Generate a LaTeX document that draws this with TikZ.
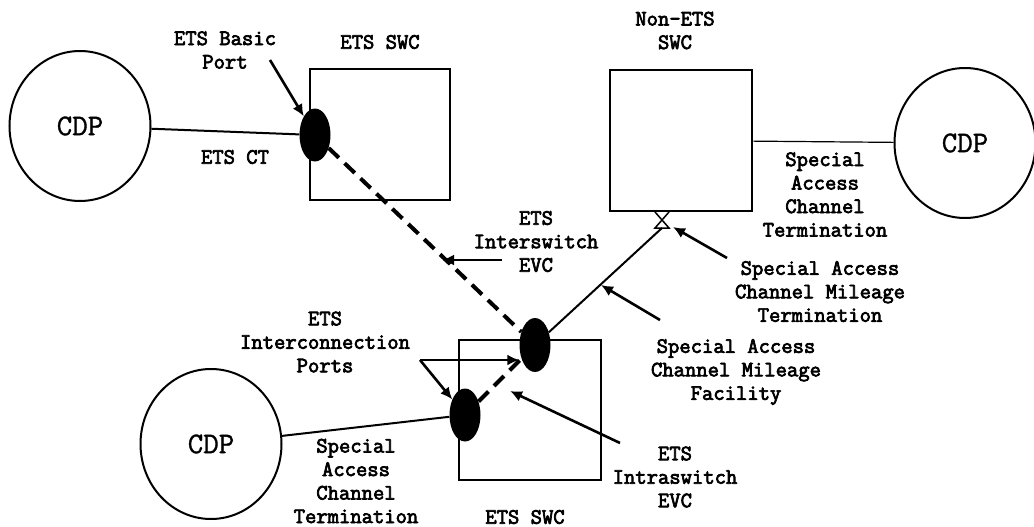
\documentclass[tikz,border=0pt]{standalone}
\usepackage{fontspec}
\newfontfamily\cour{Latin Modern Mono}[FakeBold=3.2]
\newfontfamily\courreg{Latin Modern Mono}[FakeBold=1.2]
\usetikzlibrary{shapes.geometric,arrows.meta}
\begin{document}
\begin{tikzpicture}[x=1pt,y=-1pt,
  lbl/.style={font=\fontsize{22}{23.5}\selectfont\cour, align=center, inner sep=0pt},
  cdp/.style={ellipse, draw, line width=2pt, minimum width=141pt, minimum height=150pt, inner sep=0pt, font=\fontsize{30}{32}\selectfont\courreg},
  swc/.style={rectangle, draw, line width=2.5pt, inner sep=0pt},
  port/.style={ellipse, fill=black, minimum width=31pt, minimum height=53pt, inner sep=0pt},
  arr/.style={line width=2.6pt, -{Latex[length=12pt,width=11pt]}},
  link/.style={line width=2pt},
  dsh/.style={line width=4pt, dash pattern=on 14pt off 8pt}]
\useasboundingbox (0,0) rectangle (1034,527);

% CDPs
\node[cdp] (cdpL) at (80,126) {CDP};
\node[cdp] (cdpR) at (965,143) {CDP};
\node[cdp] (cdpLL) at (211,444) {CDP};

% switching centres
\node[swc, minimum width=140pt, minimum height=131pt] (swcT) at (380,134.5) {};
\node[swc, minimum width=142pt, minimum height=141pt] (nonets) at (681,140.5) {};
\node[swc, minimum width=142pt, minimum height=140pt] (swcB) at (530,410) {};

% ports
\node[port] (bp) at (315,135) {};
\node[port, minimum height=54pt] (pU) at (535,345) {};
\node[port] (pL) at (465,415) {};

% hourglass (mileage termination)
\draw[line width=1.5pt] (655,212) -- (669,228) -- (655,228) -- (669,212);
\coordinate (hg) at (662,228);

% links
\draw[link] (cdpL) -- (bp);
\draw[line width=1.2pt] (nonets) -- (cdpR);
\draw[link] (cdpLL) -- (pL);
\draw[dsh] (bp) -- (pU);
\draw[dsh] (pL) -- (pU);
\draw[link] (pU) -- (hg);

% labels
\node[lbl] (tBP) at (225,50) {ETS Basic\\Port};
\node[lbl] (tSWC1) at (380,42) {ETS SWC};
\node[lbl] (tCT) at (235,157) {ETS CT};
\node[lbl] (tNon) at (675,30.5) {Non-ETS\\SWC};
\node[lbl] (tSACT1) at (825,194.5) {Special\\Access\\Channel\\Termination};
\node[lbl] (tISW) at (536,241.5) {ETS\\Interswitch\\EVC};
\node[lbl] (tSACMT) at (820,291.5) {Special Access\\Channel Mileage\\Termination};
\node[lbl] (tICP) at (325,342) {ETS\\Interconnection\\Ports};
\node[lbl] (tSACMF) at (736,372) {Special Access\\Channel Mileage\\Facility};
\node[lbl] (tSACT2) at (356,481) {Special\\Access\\Channel\\Termination};
\node[lbl] (tISW2) at (675,477) {ETS\\Intraswitch\\EVC};
\node[lbl] (tSWC2) at (525,517) {ETS SWC};

% arrows
\coordinate (aBP) at (270,60);
\draw[arr] (aBP) -- (bp);
\coordinate (aIS1) at (502,260);
\coordinate (aIS2) at (442,260);
\draw[arr] (aIS1) -- (aIS2);
\coordinate (aIC) at (420,360);
\draw[arr] (aIC) -- (aIC -| pU.west);
\draw[arr] (aIC) -- (pL);
\coordinate (aIA1) at (620,443);
\coordinate (aIA2) at (510,391);
\draw[arr] (aIA1) -- (aIA2);
\coordinate (aMF1) at (660,320);
\coordinate (aMF2) at (601,285);
\draw[arr] (aMF1) -- (aMF2);
\coordinate (aMT1) at (727,258);
\coordinate (aMT2) at (673,227);
\draw[arr] (aMT1) -- (aMT2);
\end{tikzpicture}
\end{document}
